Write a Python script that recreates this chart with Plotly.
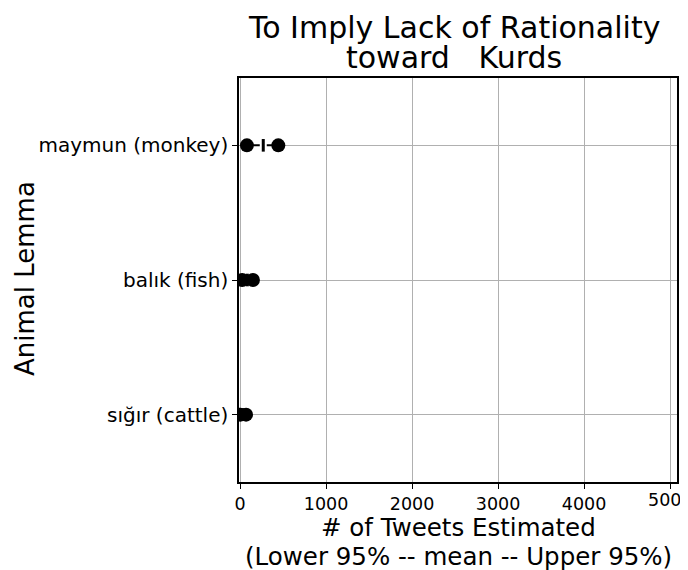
import plotly.graph_objects as go

animals = ["sığır (cattle)", "balık (fish)", "maymun (monkey)"]
lower = [5, 25, 80]
mean = [35, 85, 270]
upper = [70, 150, 445]
x_ticks = [0, 1000, 2000, 3000, 4000, 5000]

FONT = "DejaVu Sans"
# page body has an 8px margin, so the figure is shrunk by that much
W, H = 680, 562
L, R, T, B = 231, 11, 70, 88
PW, PH = W - L - R, H - T - B


def px_x(x):
    return (x - L) / PW


def px_y(y):
    return (H - B - y) / PH


fig = go.Figure()

# range lines
for a, lo, hi in zip(animals, lower, upper):
    fig.add_trace(go.Scatter(
        x=[lo, hi], y=[a, a], mode="lines",
        line=dict(color="black", width=2),
        showlegend=False, hoverinfo="skip"))

# mean tick, with a white backing to leave small gaps in the line
fig.add_trace(go.Scatter(
    x=mean, y=animals, mode="markers",
    marker=dict(symbol="line-ns", size=9, line=dict(color="white", width=7)),
    showlegend=False, hoverinfo="skip"))
fig.add_trace(go.Scatter(
    x=mean, y=animals, mode="markers",
    marker=dict(symbol="line-ns", size=9, line=dict(color="black", width=3)),
    showlegend=False))

# lower / upper dots on top
for vals in (lower, upper):
    fig.add_trace(go.Scatter(
        x=vals, y=animals, mode="markers",
        marker=dict(color="black", size=14),
        showlegend=False))

annots = [
    dict(text="To Imply Lack of Rationality", xref="paper", yref="paper",
         x=px_x(446), y=px_y(19), xanchor="center", yanchor="middle",
         showarrow=False, font=dict(size=30)),
    dict(text="toward   Kurds", xref="paper", yref="paper",
         x=px_x(446), y=px_y(50), xanchor="center", yanchor="middle",
         showarrow=False, font=dict(size=30)),
    dict(text="# of Tweets Estimated", xref="paper", yref="paper",
         x=px_x(450), y=px_y(519), xanchor="center", yanchor="middle",
         showarrow=False, font=dict(size=24.5)),
    dict(text="(Lower 95% -- mean -- Upper 95%)", xref="paper", yref="paper",
         x=px_x(450), y=px_y(548), xanchor="center", yanchor="middle",
         showarrow=False, font=dict(size=24.5)),
    dict(text="Animal Lemma", xref="paper", yref="paper", textangle=-90,
         x=px_x(17), y=px_y(271), xanchor="center", yanchor="middle",
         showarrow=False, font=dict(size=26)),
    # last tick label runs off the page edge; plotly would drop it
    dict(text=str(x_ticks[-1]), xref="x", yref="paper",
         x=x_ticks[-1], y=0, xanchor="center", yanchor="top", yshift=-6,
         showarrow=False, font=dict(size=17.5)),
]

fig.update_layout(
    width=W, height=H,
    margin=dict(l=L, r=R, t=T, b=B),
    paper_bgcolor="white", plot_bgcolor="white",
    font=dict(family=FONT, color="black"),
    annotations=annots,
)

fig.update_xaxes(
    range=[-12, 5080], tickvals=x_ticks,
    showgrid=True, gridcolor="#b0b0b0", gridwidth=1,
    showline=True, linecolor="black", linewidth=1.5, mirror=True,
    ticks="outside", ticklen=5, tickcolor="black",
    tickfont=dict(size=17.5), zeroline=False, automargin=False,
)
fig.update_yaxes(
    type="category", categoryorder="array", categoryarray=animals,
    range=[-0.5, 2.5],
    showgrid=True, gridcolor="#b0b0b0", gridwidth=1,
    showline=True, linecolor="black", linewidth=1.5, mirror=True,
    ticks="outside", ticklen=5, tickcolor="black",
    tickfont=dict(size=20), zeroline=False, automargin=False,
)

fig.write_html("out.html")
